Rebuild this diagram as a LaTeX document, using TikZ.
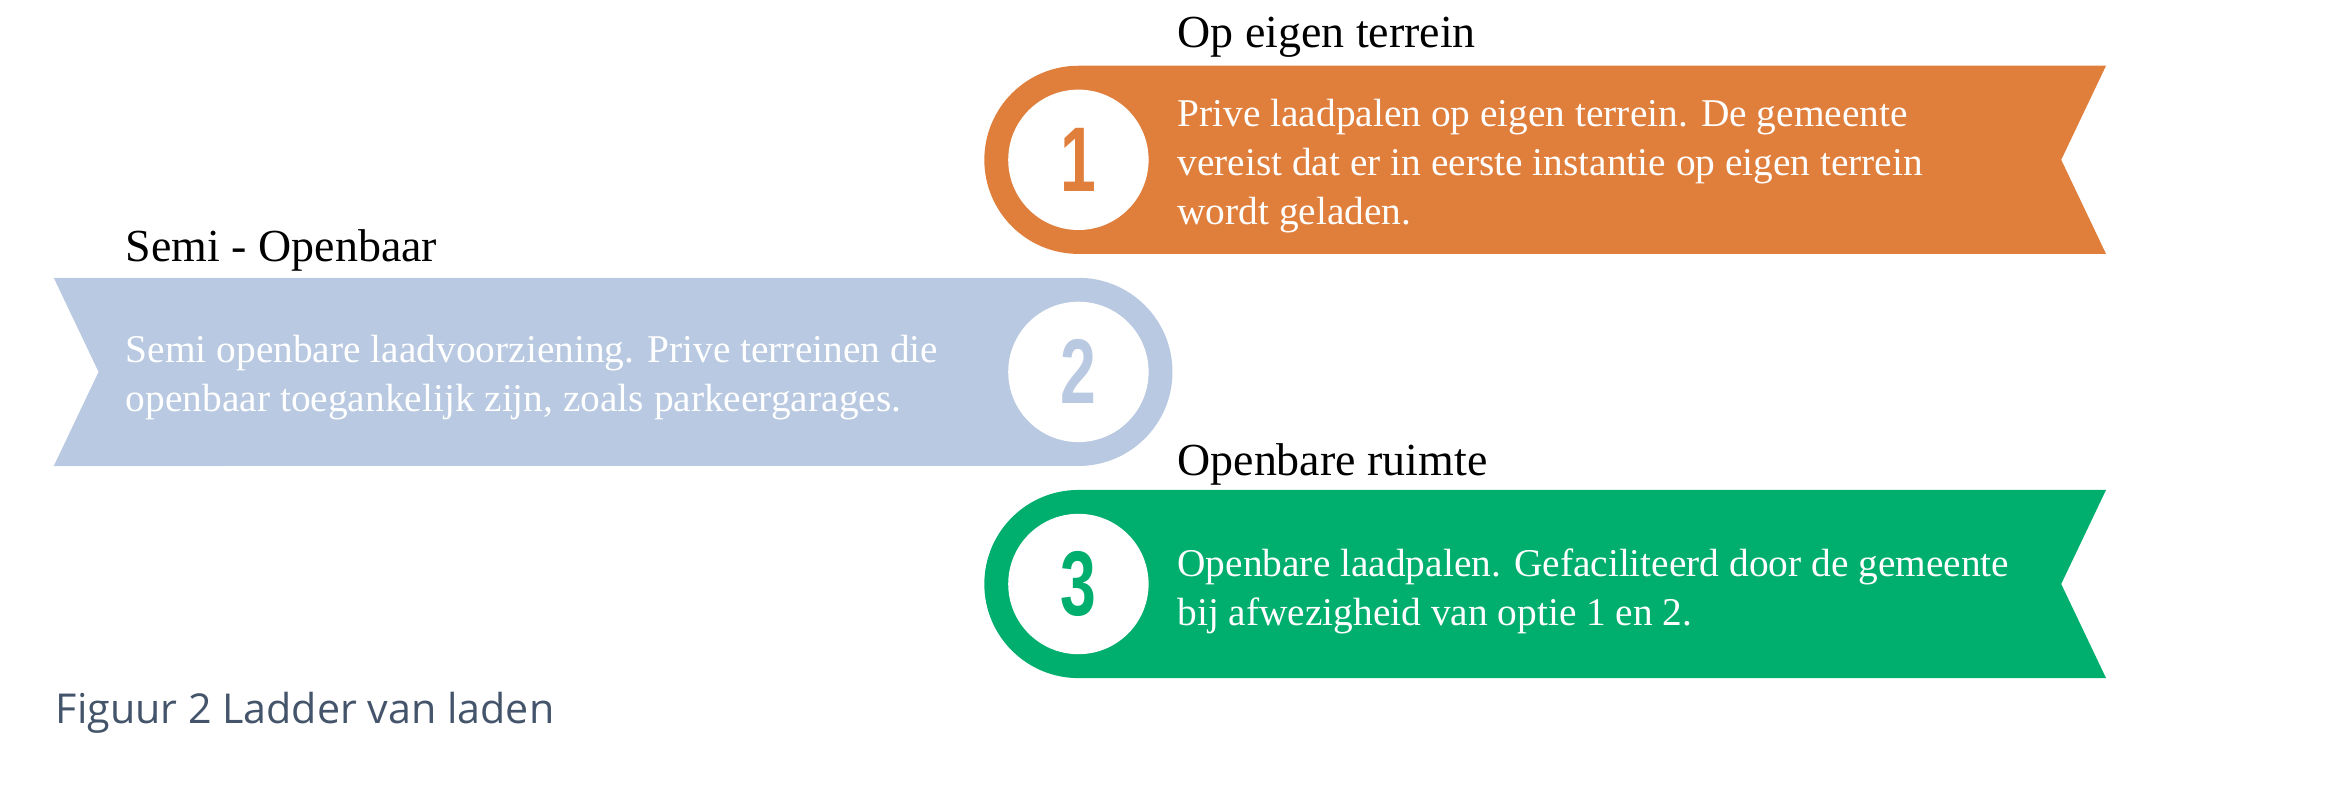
\documentclass[tikz,border=0pt]{standalone}
\usepackage{fontspec}
\setmainfont{Liberation Serif}
\newfontfamily\capfont{Open Sans}
\newfontfamily\numfont{Liberation Sans}
\usepackage{tikz}
\definecolor{oranje}{HTML}{E07E3C}
\definecolor{lichtblauw}{HTML}{B8C9E1}
\definecolor{groen}{HTML}{00AE6E}
\definecolor{grijsblauw}{HTML}{44546A}
\begin{document}
\begin{tikzpicture}
      [x=0.02cm, y=0.02cm,
       every node/.style={inner sep=0pt},
       rondje/.style={circle, fill=white, minimum size=1.88cm},
       cijfer/.style={font=\numfont\bfseries\fontsize{35}{35}\selectfont},
       kop/.style={anchor=west, font=\fontsize{17.5}{20}\selectfont},
       tekst/.style={anchor=west, align=left, text=white, font=\fontsize{15}{18.6}\selectfont}]
      \useasboundingbox (0,0) rectangle (1568,-526);

      % ribbons
      \fill [oranje] (722,-44) -- (1410,-44) -- (1380,-107) -- (1410,-170) -- (722,-170) arc (270:90:1.26cm) -- cycle;
      \fill [lichtblauw] (36,-186) -- (722,-186) arc (90:-90:1.26cm) -- (36,-312) -- (66,-249) -- cycle;
      \fill [groen] (722,-328) -- (1410,-328) -- (1380,-391) -- (1410,-454) -- (722,-454) arc (270:90:1.26cm) -- cycle;

      \node [rondje] (c1) at (722,-107) {};
      \node [rondje] (c2) at (722,-249) {};
      \node [rondje] (c3) at (722,-391) {};
      \node [cijfer, text=oranje] at (c1) {\scalebox{0.7}[1]{1}};
      \node [cijfer, text=lichtblauw] at (c2) {\scalebox{0.7}[1]{2}};
      \node [cijfer, text=groen] at (c3) {\scalebox{0.7}[1]{3}};

      \node [kop] (k1) at (788,-25) {Op eigen terrein};
      \node [kop] (k2) at (84,-168) {Semi - Openbaar};
      \node [kop] (k3) at (788,-311) {Openbare ruimte};

      \node [tekst] (t1) at (788,-111) {Prive laadpalen op eigen terrein. De gemeente\\vereist dat er in eerste instantie op eigen terrein\\wordt geladen.};
      \node [tekst] (t2) at (84,-253) {Semi openbare laadvoorziening. Prive terreinen die\\openbaar toegankelijk zijn, zoals parkeergarages.};
      \node [tekst] (t3) at (788,-396) {Openbare laadpalen. Gefaciliteerd door de gemeente\\bij afwezigheid van optie 1 en 2.};

      \node [anchor=west, text=grijsblauw, font=\capfont\fontsize{15.7}{18}\selectfont] (cap) at (37,-477) {Figuur 2 Ladder van laden};
    \end{tikzpicture}
\end{document}
